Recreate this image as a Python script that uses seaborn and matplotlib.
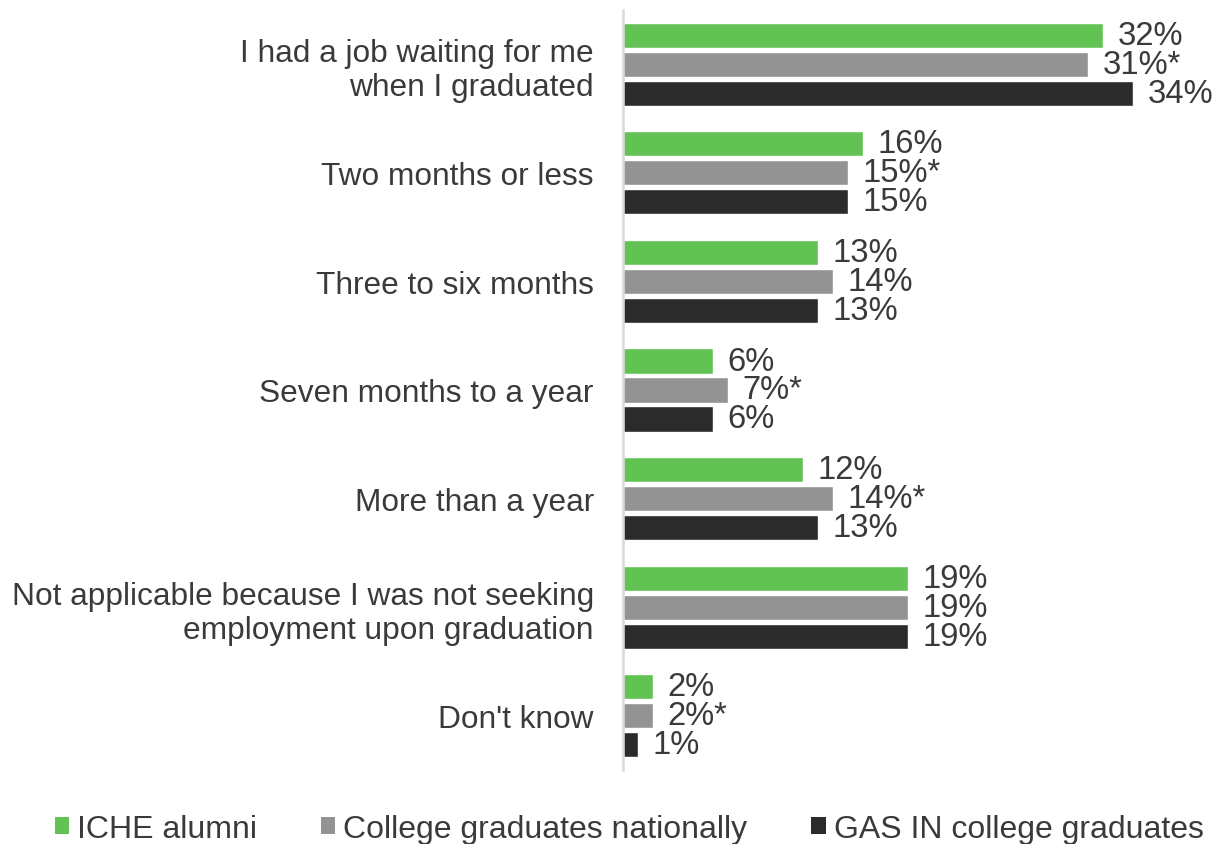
import matplotlib
matplotlib.use("Agg")
import matplotlib.pyplot as plt
import seaborn as sns
import pandas as pd
from matplotlib.patches import Patch

# Time to find a job after graduation (% of respondents)
categories = [
    "I had a job waiting for me\nwhen I graduated",
    "Two months or less",
    "Three to six months",
    "Seven months to a year",
    "More than a year",
    "Not applicable because I was not seeking\nemployment upon graduation",
    "Don't know",
]
groups = ["ICHE alumni", "College graduates nationally", "GAS IN college graduates"]
iche_alumni = [32, 16, 13, 6, 12, 19, 2]
graduates_national = [31, 15, 14, 7, 14, 19, 2]
gas_in_graduates = [34, 15, 13, 6, 13, 19, 1]
# significance markers shown next to the national figures
national_marks = ["*", "*", "", "*", "*", "", "*"]

colors = ["#62c354", "#939393", "#2b2b2b"]
text_color = "#3a3a3a"

sns.set_theme(style="white")
plt.rcParams["font.family"] = ["Liberation Sans", "DejaVu Sans"]

df = pd.DataFrame({
    "category": categories * 3,
    "group": [groups[0]] * 7 + [groups[1]] * 7 + [groups[2]] * 7,
    "value": iche_alumni + graduates_national + gas_in_graduates,
})

fig = plt.figure(figsize=(12.25, 8.45), dpi=100)
ax = fig.add_axes([623 / 1225, 1 - 771 / 845, 600 / 1225, 760 / 845])

sns.barplot(
    data=df, y="category", x="value", hue="group", order=categories,
    hue_order=groups, palette=colors, orient="h", width=0.8, gap=0.13,
    saturation=1, errorbar=None, legend=False, ax=ax,
)

series = [iche_alumni, graduates_national, gas_in_graduates]
marks = [[""] * 7, national_marks, [""] * 7]
for cont, vals, mk in zip(ax.containers, series, marks):
    labels = [f"{v}%{m}" for v, m in zip(vals, mk)]
    ax.bar_label(cont, labels=labels, padding=10.5, fontsize=23.6, color=text_color)

ax.set_xlim(0, 40)
ax.set_ylim(6.5, -0.5)
ax.set_xlabel("")
ax.set_ylabel("")
ax.set_xticks([])
ax.tick_params(axis="y", length=0, pad=21)
for lbl in ax.get_yticklabels():
    lbl.set_fontsize(22.8)
    lbl.set_color(text_color)
    lbl.set_linespacing(1.17)

for side in ["top", "right", "bottom"]:
    ax.spines[side].set_visible(False)
ax.spines["left"].set_color("#d9d9d9")
ax.spines["left"].set_linewidth(1.8)

handles = [Patch(facecolor=c, edgecolor="none") for c in colors]
fig.legend(
    handles, groups, loc="center", bbox_to_anchor=(629 / 1225, 1 - 830 / 845),
    ncol=3, frameon=False, fontsize=23, labelcolor=text_color,
    handlelength=0.45, handleheight=0.45, handletextpad=0.25, columnspacing=2.0,
)

fig.savefig("out.png", dpi=100)
